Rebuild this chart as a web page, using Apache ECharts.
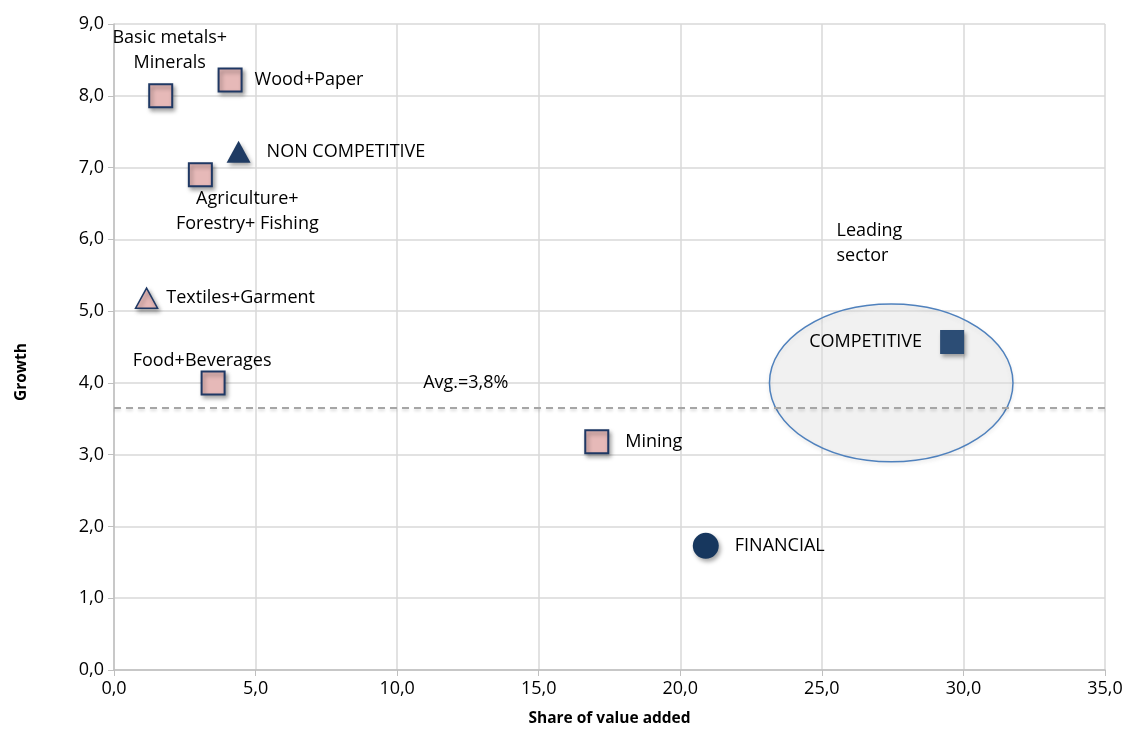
<!DOCTYPE html>
<html>
<head>
<meta charset="utf-8">
<script src="https://cdn.jsdelivr.net/npm/echarts@6/dist/echarts.min.js"></script>
<style>html,body{margin:0;padding:0;background:#fff;}#c{width:1128px;height:756px;}</style>
</head>
<body>
<div id="c"></div>
<script>
const sectors = ['Basic metals+\nMinerals', 'Wood+Paper', 'NON COMPETITIVE', 'Agriculture+\nForestry+ Fishing', 'Textiles+Garment', 'Food+Beverages', 'Mining', 'FINANCIAL', 'COMPETITIVE'];
const shareValues = [1.65, 4.1, 4.4, 3.05, 1.15, 3.5, 17.05, 20.9, 29.6];
const growthValues = [8.0, 8.22, 7.22, 6.9, 5.18, 4.0, 3.18, 1.73, 4.57];
const markerKinds = ['pinkSquare','pinkSquare','navyTriangle','pinkSquare','pinkTriangle','pinkSquare','pinkSquare','navyCircle','navySquare'];
const xTicks = [0, 5, 10, 15, 20, 25, 30, 35];
const yTicks = [0, 1, 2, 3, 4, 5, 6, 7, 8, 9];
const avgGrowth = 3.65;
const avgLabel = 'Avg.=3,8%';
const ellipseZone = [27.45, 4.0, 4.3, 1.1]; // center x, center y, radius x, radius y (data units)
const notes = ['Leading\nsector', avgLabel];
const notePos = [[25.5, 5.95], [10.9, 4.0]];

const fontFam = '"Open Sans", Lato, sans-serif';
const fs = 18;
const shadow = {opacity: 1, shadowBlur: 4, shadowOffsetX: 2, shadowOffsetY: 3, shadowColor: 'rgba(0,0,0,0.35)'};
const kindStyle = {
  pinkSquare: {symbol: 'rect', symbolSize: 23, itemStyle: Object.assign({color: '#e6b9b8', borderColor: '#1f3864', borderWidth: 2}, shadow)},
  pinkTriangle: {symbol: 'triangle', symbolSize: [22, 20], itemStyle: Object.assign({color: '#e6b9b8', borderColor: '#1f3864', borderWidth: 1.5}, shadow)},
  navyTriangle: {symbol: 'triangle', symbolSize: [24, 22], itemStyle: Object.assign({color: '#1f3b63'}, shadow)},
  navyCircle: {symbol: 'circle', symbolSize: 26, itemStyle: Object.assign({color: '#17375e'}, shadow)},
  navySquare: {symbol: 'rect', symbolSize: 24, itemStyle: Object.assign({color: '#2c4d75'}, shadow)}
};
const labelCfg = [
  {position: 'top', offset: [9, -3], align: 'center'},
  {position: 'right', distance: 12},
  {position: 'right', distance: 16},
  {position: 'bottom', offset: [47, -6], align: 'center'},
  {position: 'right', distance: 8},
  {position: 'top', offset: [-11, 8], align: 'center'},
  {position: 'right', distance: 16},
  {position: 'right', distance: 16},
  {position: 'left', distance: 18}
];

const pointData = sectors.map((name, i) => {
  const k = kindStyle[markerKinds[i]];
  return {
    name: name,
    value: [shareValues[i], growthValues[i]],
    symbol: k.symbol,
    symbolSize: k.symbolSize,
    itemStyle: k.itemStyle,
    label: Object.assign({show: true, formatter: name, color: '#000', fontSize: fs, fontFamily: fontFam, lineHeight: 25}, labelCfg[i])
  };
});

const fmt = v => v.toFixed(1).replace('.', ',');

const chart = echarts.init(document.getElementById('c'), null, {renderer: 'canvas'});
chart.setOption({
  animation: false,
  backgroundColor: '#fff',
  grid: {left: 114, right: 23, top: 24, bottom: 86, containLabel: false},
  xAxis: {
    type: 'value', min: 0, max: 35, interval: 5,
    name: 'Share of value added', nameLocation: 'middle', nameGap: 41,
    nameTextStyle: {fontWeight: 'bold', fontSize: 15.5, color: '#000', fontFamily: fontFam},
    axisLine: {show: true, lineStyle: {color: '#bfbfbf', width: 1.5}},
    axisTick: {show: true, length: 6, lineStyle: {color: '#bfbfbf'}},
    axisLabel: {formatter: fmt, fontSize: fs, color: '#000', fontFamily: fontFam, margin: 10},
    splitLine: {show: true, lineStyle: {color: '#d9d9d9', width: 1.5}}
  },
  yAxis: {
    type: 'value', min: 0, max: 9, interval: 1,
    name: 'Growth', nameLocation: 'middle', nameGap: 84, nameRotate: 90,
    nameTextStyle: {fontWeight: 'bold', fontSize: 15.5, color: '#000', fontFamily: fontFam, padding: [0, 50, 0, 0]},
    axisLine: {show: true, lineStyle: {color: '#bfbfbf', width: 1.5}},
    axisTick: {show: true, length: 6, lineStyle: {color: '#bfbfbf'}},
    axisLabel: {formatter: fmt, fontSize: fs, color: '#000', fontFamily: fontFam, margin: 10},
    splitLine: {show: true, lineStyle: {color: '#d9d9d9', width: 1.5}}
  },
  series: [
    {
      type: 'custom', z: 1, silent: true,
      data: [ellipseZone],
      renderItem: function (params, api) {
        const c = api.coord([api.value(0), api.value(1)]);
        const s = api.size([api.value(2), api.value(3)]);
        return {
          type: 'ellipse',
          shape: {cx: c[0], cy: c[1], rx: s[0], ry: s[1]},
          style: {fill: 'rgba(235,235,235,0.4)', stroke: '#4f81bd', lineWidth: 1.5, shadowBlur: 4, shadowOffsetY: 2, shadowColor: 'rgba(0,0,0,0.1)'}
        };
      }
    },
    {
      type: 'line', z: 2, clip: false, silent: true, symbol: 'none',
      data: [[0, avgGrowth], [36, avgGrowth]],
      lineStyle: {color: '#a6a6a6', width: 2, type: [7, 5], shadowBlur: 3, shadowOffsetY: 2, shadowColor: 'rgba(0,0,0,0.15)'}
    },
    {
      type: 'scatter', z: 3, silent: true,
      symbolSize: 1, itemStyle: {color: 'rgba(0,0,0,0)', opacity: 1},
      data: notes.map((t, i) => ({value: notePos[i], label: {show: true, formatter: t, position: 'right', distance: 0, align: 'left', fontSize: fs, color: '#000', fontFamily: fontFam, lineHeight: 25}}))
    },
    {
      type: 'scatter', z: 4,
      data: pointData
    }
  ]
});
</script>
</body>
</html>
